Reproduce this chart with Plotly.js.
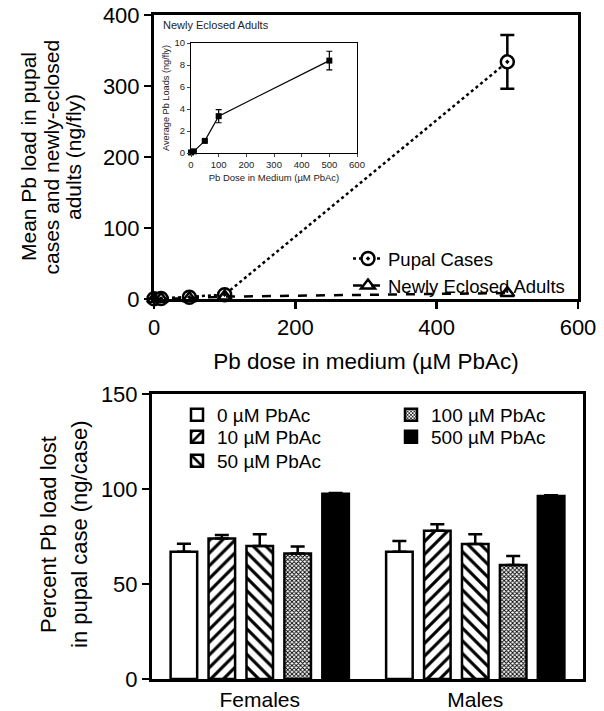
<!DOCTYPE html>
<html>
<head>
<meta charset="utf-8">
<script src="https://cdn.plot.ly/plotly-3.0.1.min.js"></script>
<style>html,body{margin:0;padding:0;background:#fff;}#chart{width:604px;height:711px;}</style>
</head>
<body>
<div id="chart"></div>
<script>
// ---- Top panel data ----
const doses = [0, 10, 50, 100, 500];
const pupalLoad = [0.3, 0.8, 2.5, 6, 334];
const pupalErr = [0.2, 0.4, 1, 2, 38];
const adultLoad = [0.05, 0.15, 1.1, 3.35, 8.4];
const adultErr = [0.02, 0.05, 0.1, 0.6, 0.85];

// ---- Bottom panel data ----
const sexes = ['Females', 'Males'];
const doseLabels = ['0 µM PbAc', '10 µM PbAc', '50 µM PbAc', '100 µM PbAc', '500 µM PbAc'];
const pct0 = [67, 67];
const pct10 = [74, 78];
const pct50 = [70, 71];
const pct100 = [66, 60];
const pct500 = [97.5, 96.3];
const sem0 = [4.2, 5.6];
const sem10 = [1.8, 3.5];
const sem50 = [6.2, 5.2];
const sem100 = [3.8, 4.8];
const sem500 = [0.4, 0.4];

const topTitleLines = ['Mean Pb load in pupal', 'cases and newly-eclosed', 'adults (ng/fly)'];
const bottomTitleLines = ['Percent Pb load lost', 'in pupal case (ng/case)'];

const FONT = 'Liberation Sans, Arial, Helvetica, sans-serif';
const W = 604, H = 711;
const px = v => v / W;
const py = v => (H - v) / H;

const traces = [];

// top main
traces.push({
  x: doses, y: pupalLoad, type: 'scatter', mode: 'lines+markers', name: 'Pupal Cases',
  xaxis: 'x', yaxis: 'y', legend: 'legend', cliponaxis: false,
  line: {color: '#000', width: 2.5, dash: 'dot'},
  marker: {symbol: 'circle-dot', size: 13, color: '#fff', line: {color: '#000', width: 2.5}},
  error_y: {type: 'data', array: pupalErr, visible: true, color: '#000', thickness: 2.5, width: 7}
});
traces.push({
  x: doses, y: adultLoad, type: 'scatter', mode: 'lines+markers', name: 'Newly Eclosed Adults',
  xaxis: 'x', yaxis: 'y', legend: 'legend2', cliponaxis: false,
  line: {color: '#000', width: 2.5, dash: 'dash'},
  marker: {symbol: 'triangle-up-open', size: 12, color: '#000', line: {color: '#000', width: 2.5}}
});

// inset
traces.push({
  x: doses, y: adultLoad, type: 'scatter', mode: 'lines+markers', name: 'inset',
  xaxis: 'x3', yaxis: 'y3', showlegend: false, cliponaxis: false,
  line: {color: '#000', width: 1.2},
  marker: {symbol: 'square', size: 6, color: '#000'},
  error_y: {type: 'data', array: adultErr, visible: true, color: '#000', thickness: 1.2, width: 3}
});

// bottom bars
const barSets = [
  [pct0, sem0, {shape: ''}, '#fff', 'legend3'],
  [pct10, sem10, {shape: '/', size: 9, solidity: 0.35, fgcolor: '#000', bgcolor: '#fff'}, '#fff', 'legend4'],
  [pct50, sem50, {shape: '\\', size: 9, solidity: 0.35, fgcolor: '#000', bgcolor: '#fff'}, '#fff', 'legend5'],
  [pct100, sem100, {shape: 'x', size: 3, solidity: 0.5, fgcolor: '#000', bgcolor: '#fff'}, '#fff', 'legend6'],
  [pct500, sem500, {shape: ''}, '#000', 'legend7']
];
barSets.forEach((b, i) => {
  traces.push({
    x: sexes, y: b[0], type: 'bar', name: doseLabels[i],
    xaxis: 'x2', yaxis: 'y2', legend: b[4],
    marker: {color: b[3], pattern: b[2], line: {color: '#000', width: 2.5}},
    error_y: {type: 'data', symmetric: false, array: b[1], arrayminus: [0, 0], visible: true,
              color: '#000', thickness: 2.5, width: 7}
  });
});

const axBase = {
  showline: true, linecolor: '#000', linewidth: 3, mirror: true,
  ticks: 'outside', ticklen: 7, tickwidth: 2.5, tickcolor: '#000',
  showgrid: false, zeroline: false,
  tickfont: {family: FONT, size: 22, color: '#000'}
};

const annotations = [{
  text: 'Newly Eclosed Adults', xref: 'paper', yref: 'paper', x: px(161), y: py(25),
  xanchor: 'left', yanchor: 'middle', showarrow: false,
  font: {family: FONT, size: 11, color: '#222'}
}];
const topX = [28, 50.5, 73];
topTitleLines.forEach((t, i) => annotations.push({
  text: t, xref: 'paper', yref: 'paper', x: px(topX[i]), y: py(157),
  xanchor: 'center', yanchor: 'middle', textangle: -90, showarrow: false,
  font: {family: FONT, size: 21, color: '#000'}
}));
const botX = [48, 79];
bottomTitleLines.forEach((t, i) => annotations.push({
  text: t, xref: 'paper', yref: 'paper', x: px(botX[i]), y: py(535),
  xanchor: 'center', yanchor: 'middle', textangle: -90, showarrow: false,
  font: {family: FONT, size: 22, color: '#000'}
}));

const legBase = {xanchor: 'left', yanchor: 'top', bgcolor: 'rgba(0,0,0,0)', tracegroupgap: 0};
const legTop = (x, y) => Object.assign({}, legBase, {x: px(x), y: py(y), font: {family: FONT, size: 18.5, color: '#000'}});
const legBot = (x, y) => Object.assign({}, legBase, {x: px(x), y: py(y), font: {family: FONT, size: 19, color: '#000'}});

const layout = {
  width: W, height: H,
  margin: {l: 0, r: 0, t: 0, b: 0},
  paper_bgcolor: '#fff', plot_bgcolor: 'rgba(0,0,0,0)',
  font: {family: FONT, color: '#000'},
  barmode: 'group', bargap: 0.12, bargroupgap: 0.3,
  xaxis: Object.assign({}, axBase, {
    domain: [px(154), px(578)], range: [0, 600], tickvals: [0, 200, 400, 600],
    anchor: 'y',
    title: {text: 'Pb dose in medium (µM PbAc)', font: {family: FONT, size: 22.5, color: '#000'}, standoff: 14}
  }),
  yaxis: Object.assign({}, axBase, {
    domain: [py(299), py(15)], range: [0, 400], tickvals: [0, 100, 200, 300, 400],
    anchor: 'x'
  }),
  xaxis2: Object.assign({}, axBase, {
    domain: [px(152), px(583)], type: 'category', ticks: '', anchor: 'y2',
    tickfont: {family: FONT, size: 21, color: '#000'}
  }),
  yaxis2: Object.assign({}, axBase, {
    domain: [py(679), py(394)], range: [0, 150], tickvals: [0, 50, 100, 150],
    anchor: 'x2'
  }),
  xaxis3: {
    domain: [px(191), px(357)], range: [0, 600], tickvals: [0, 100, 200, 300, 400, 500, 600],
    anchor: 'y3', showline: true, mirror: true, linecolor: '#000', linewidth: 1,
    ticks: 'outside', ticklen: 3, tickwidth: 1, showgrid: false, zeroline: false,
    tickfont: {family: FONT, size: 9.5, color: '#222'},
    title: {text: 'Pb Dose in Medium (µM PbAc)', font: {family: FONT, size: 9.5, color: '#222'}, standoff: 4}
  },
  yaxis3: {
    domain: [py(153), py(43)], range: [0, 10], tickvals: [0, 2, 4, 6, 8, 10],
    anchor: 'x3', showline: true, mirror: true, linecolor: '#000', linewidth: 1,
    ticks: 'outside', ticklen: 3, tickwidth: 1, showgrid: false, zeroline: false,
    tickfont: {family: FONT, size: 9.5, color: '#222'},
    title: {text: 'Average Pb Loads (ng/fly)', font: {family: FONT, size: 9.2, color: '#222'}, standoff: 3}
  },
  legend: legTop(348, 240),
  legend2: legTop(348, 267),
  legend3: legBot(177, 396),
  legend4: legBot(177, 418),
  legend5: legBot(177, 442),
  legend6: legBot(391, 396),
  legend7: legBot(391, 418),
  annotations: annotations
};

Plotly.newPlot('chart', traces, layout, {displayModeBar: false, staticPlot: true});
</script>
</body>
</html>
